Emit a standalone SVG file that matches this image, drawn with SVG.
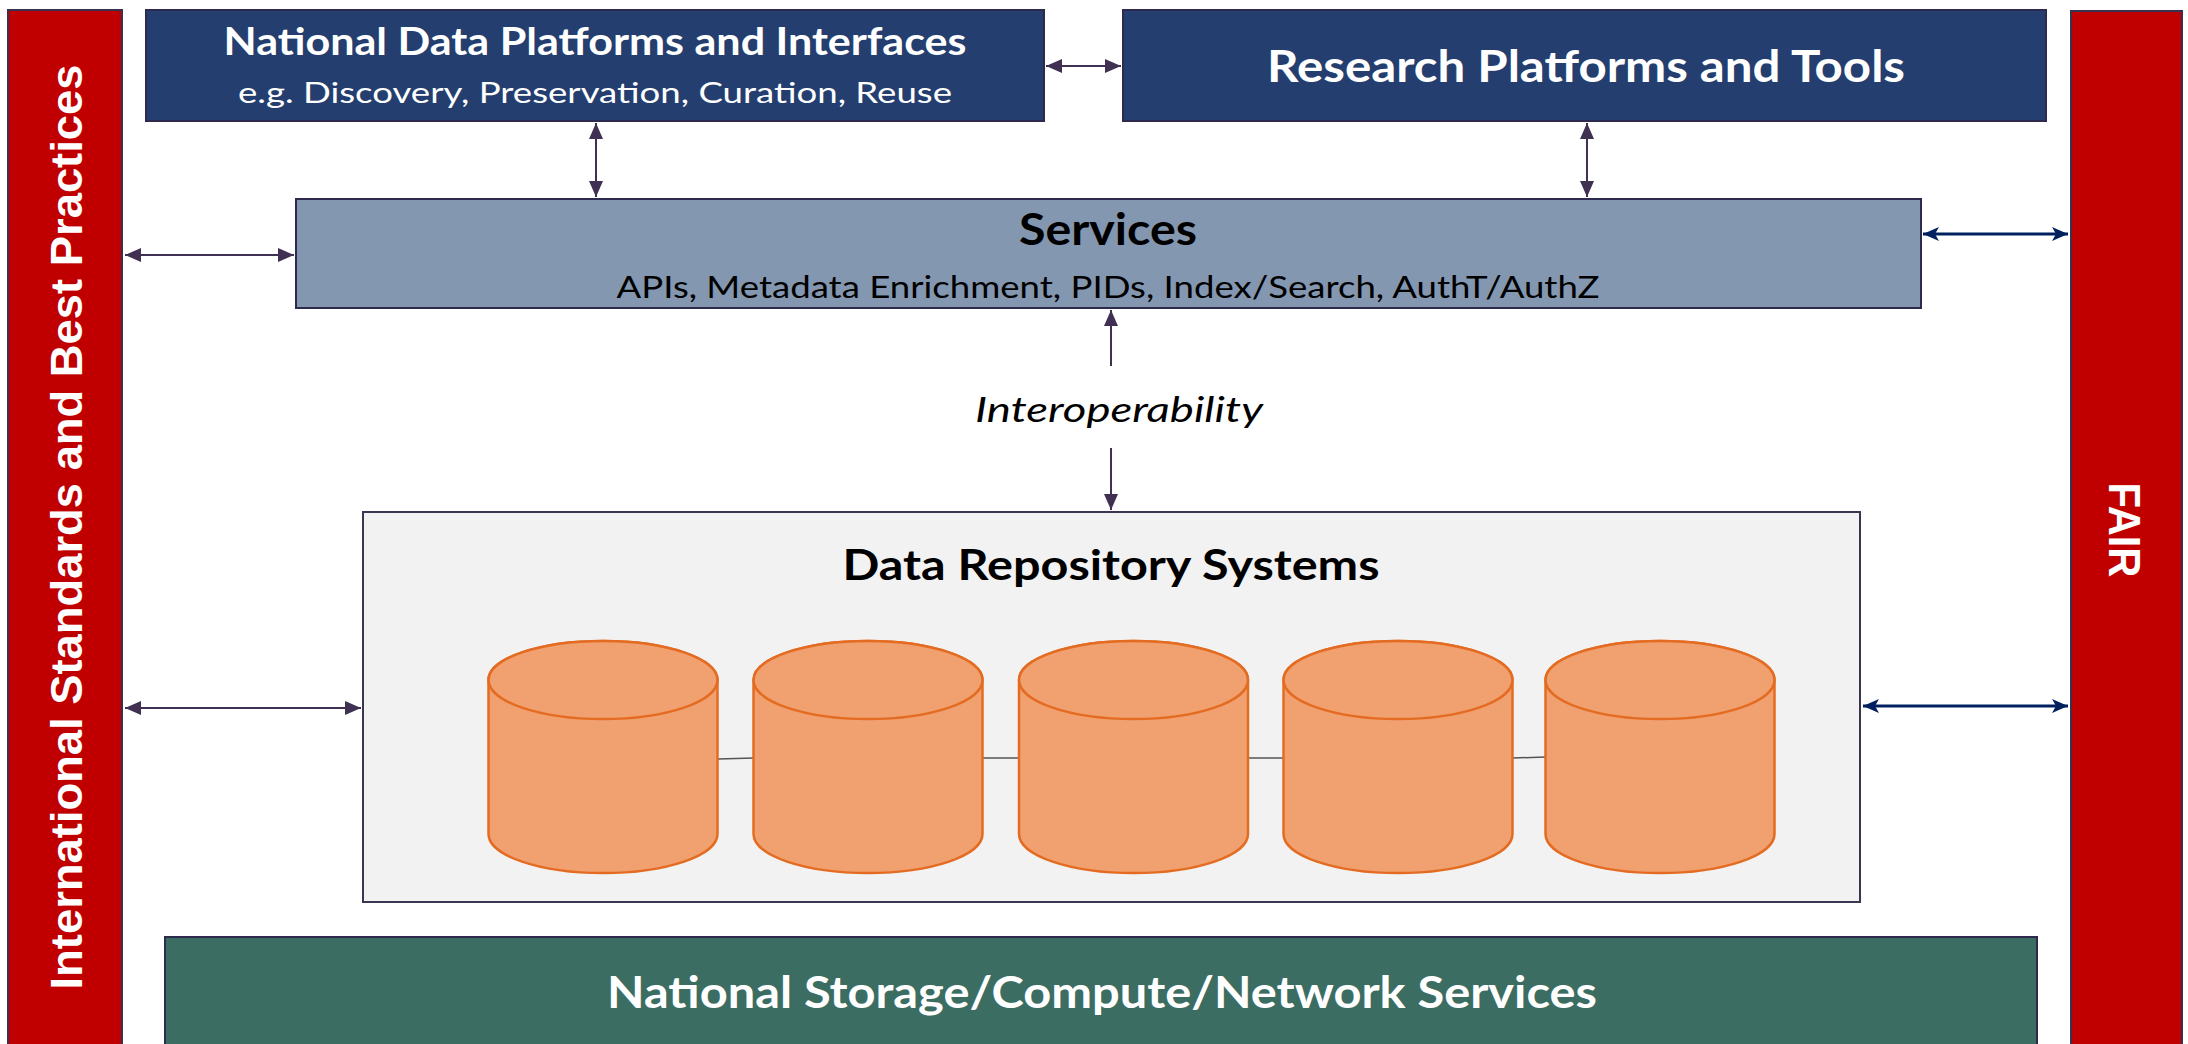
<svg xmlns="http://www.w3.org/2000/svg" width="2188" height="1044" viewBox="0 0 2188 1044">
<style>
.bar{fill:#C00000;stroke:#3A3050;stroke-width:2}
.navy{fill:#243F6F;stroke:#2E2A4E;stroke-width:2}
.svc{fill:#8497B0;stroke:#2E2A4E;stroke-width:2}
.repo{fill:#F2F2F2;stroke:#3A3550;stroke-width:2}
.green{fill:#3B6D63;stroke:#2E2A4E;stroke-width:2}
.cyl{fill:#F1A070;stroke:#E46C22;stroke-width:2.5}
.vt{font-family:"Liberation Sans",Arial,sans-serif;font-weight:bold;fill:#FFFFFF;text-anchor:middle}
.t{font-family:Lato,"Liberation Sans",sans-serif;text-anchor:middle}
.w{fill:#FFFFFF}
.k{fill:#000000}
.b{font-weight:bold}
.cp{stroke:#403152;stroke-width:2;fill:none}
.cn{stroke:#002060;stroke-width:3;fill:none}
.cl{stroke:#555555;stroke-width:1.5;fill:none}
</style>
<defs>
<marker id="ap" viewBox="0 0 16 14" markerWidth="16" markerHeight="14" refX="16" refY="7" orient="auto-start-reverse" markerUnits="userSpaceOnUse">
<path d="M0,0 L16,7 L0,14 Z" fill="#403152"/>
</marker>
<marker id="an" viewBox="0 0 16 14" markerWidth="16" markerHeight="14" refX="16" refY="7" orient="auto-start-reverse" markerUnits="userSpaceOnUse">
<path d="M0,0 L16,7 L0,14 L4,7 Z" fill="#002060"/>
</marker>
</defs>
<rect width="2188" height="1044" fill="#FFFFFF"/>

<g id="node-standards">
<rect class="bar" x="8" y="10" width="114" height="1040"/>
<text class="vt" font-size="45" transform="translate(82,527) rotate(-90)" textLength="925" lengthAdjust="spacingAndGlyphs">International Standards and Best Practices</text>
</g>

<g id="node-fair">
<rect class="bar" x="2071" y="11" width="111" height="1040"/>
<text class="vt" font-size="44" transform="translate(2109,530) rotate(90)" textLength="95" lengthAdjust="spacingAndGlyphs">FAIR</text>
</g>

<g id="node-national-platforms">
<rect class="navy" x="146" y="10" width="898" height="111"/>
<text class="t w b" x="595" y="55" font-size="38" textLength="743" lengthAdjust="spacingAndGlyphs">National Data Platforms and Interfaces</text>
<text class="t w" x="595" y="103" font-size="28" textLength="714" lengthAdjust="spacingAndGlyphs">e.g. Discovery, Preservation, Curation, Reuse</text>
</g>

<g id="node-research-platforms">
<rect class="navy" x="1123" y="10" width="923" height="111"/>
<text class="t w b" x="1586" y="82" font-size="44" textLength="638" lengthAdjust="spacingAndGlyphs">Research Platforms and Tools</text>
</g>

<g id="node-services">
<rect class="svc" x="296" y="199" width="1625" height="109"/>
<text class="t k b" x="1108" y="245" font-size="43" textLength="178" lengthAdjust="spacingAndGlyphs">Services</text>
<text class="t k" x="1108" y="298" font-size="30" textLength="983" lengthAdjust="spacingAndGlyphs">APIs, Metadata Enrichment, PIDs, Index/Search, AuthT/AuthZ</text>
</g>

<g id="label-interoperability">
<text class="t k" x="1119" y="422" font-size="34" font-style="italic" textLength="288" lengthAdjust="spacingAndGlyphs">Interoperability</text>
</g>

<g id="node-data-repository">
<rect class="repo" x="363" y="512" width="1497" height="390"/>
<text class="t k b" x="1111" y="580" font-size="42" textLength="537" lengthAdjust="spacingAndGlyphs">Data Repository Systems</text>
</g>

<g id="connectors">
<line class="cp" x1="1046" y1="66" x2="1121" y2="66" marker-start="url(#ap)" marker-end="url(#ap)"/>
<line class="cp" x1="596" y1="123" x2="596" y2="197" marker-start="url(#ap)" marker-end="url(#ap)"/>
<line class="cp" x1="1587" y1="123" x2="1587" y2="197" marker-start="url(#ap)" marker-end="url(#ap)"/>
<line class="cp" x1="125" y1="255" x2="294" y2="255" marker-start="url(#ap)" marker-end="url(#ap)"/>
<line class="cn" x1="1923" y1="234" x2="2068" y2="234" marker-start="url(#an)" marker-end="url(#an)"/>
<line class="cp" x1="1111" y1="366" x2="1111" y2="310" marker-end="url(#ap)"/>
<line class="cp" x1="1111" y1="448" x2="1111" y2="510" marker-end="url(#ap)"/>
<line class="cp" x1="125" y1="708" x2="361" y2="708" marker-start="url(#ap)" marker-end="url(#ap)"/>
<line class="cn" x1="1863" y1="706" x2="2068" y2="706" marker-start="url(#an)" marker-end="url(#an)"/>
<line class="cl" x1="718" y1="759" x2="754" y2="758"/>
<line class="cl" x1="983" y1="758" x2="1019" y2="758"/>
<line class="cl" x1="1248" y1="758" x2="1284" y2="758"/>
<line class="cl" x1="1513" y1="758" x2="1546" y2="757"/>
</g>

<g id="node-repo-1">
<path class="cyl" d="M488.5,680 V834 A114.5,39 0 0 0 717.5,834 V680 A114.5,39 0 0 0 488.5,680 Z"/>
<ellipse class="cyl" cx="603" cy="680" rx="114.5" ry="39"/>
</g>
<g id="node-repo-2">
<path class="cyl" d="M753.5,680 V834 A114.5,39 0 0 0 982.5,834 V680 A114.5,39 0 0 0 753.5,680 Z"/>
<ellipse class="cyl" cx="868" cy="680" rx="114.5" ry="39"/>
</g>
<g id="node-repo-3">
<path class="cyl" d="M1019,680 V834 A114.5,39 0 0 0 1248,834 V680 A114.5,39 0 0 0 1019,680 Z"/>
<ellipse class="cyl" cx="1133.5" cy="680" rx="114.5" ry="39"/>
</g>
<g id="node-repo-4">
<path class="cyl" d="M1283.5,680 V834 A114.5,39 0 0 0 1512.5,834 V680 A114.5,39 0 0 0 1283.5,680 Z"/>
<ellipse class="cyl" cx="1398" cy="680" rx="114.5" ry="39"/>
</g>
<g id="node-repo-5">
<path class="cyl" d="M1545.5,680 V834 A114.5,39 0 0 0 1774.5,834 V680 A114.5,39 0 0 0 1545.5,680 Z"/>
<ellipse class="cyl" cx="1660" cy="680" rx="114.5" ry="39"/>
</g>

<g id="node-national-storage">
<rect class="green" x="165" y="937" width="1872" height="120"/>
<text class="t w b" x="1102" y="1008" font-size="43" textLength="990" lengthAdjust="spacingAndGlyphs">National Storage/Compute/Network Services</text>
</g>
</svg>
